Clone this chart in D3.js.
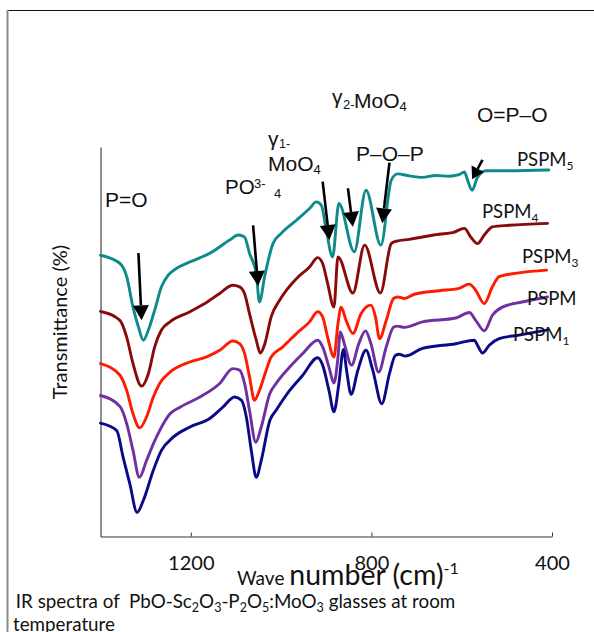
<!DOCTYPE html>
<html><head><meta charset="utf-8">
<script src="https://cdn.jsdelivr.net/npm/d3@7"></script>
<style>body{margin:0;background:#fff}svg{display:block}</style>
</head><body>
<script>
// ---------- data (wavenumber cm-1, transmittance %) ----------
const xTicks = [1200, 800, 400];
const seriesNames = ["PSPM5", "PSPM4", "PSPM3", "PSPM", "PSPM1"];
const seriesColors = ["#0f8a8a", "#880a0a", "#ff1a00", "#7030a0", "#0a0a88"];

const pspm5Wn = [1400,1357,1342,1328,1316,1305,1294,1280,1265,1250,1232,1202,1158,1114,1095,1081,1070,1055,1048,1036,1018,1000,966,937,922,911,900,886,872,838,812,779,756,742,716,687,657,628,606,594,587,577,565,546,502,407];
const pspm5T  = [72.2,70.1,66.7,58.9,53.8,50.4,53.0,58.1,64.1,67.1,68.8,70.5,72.7,76.1,77.4,76.9,72.7,67.5,60.2,67.0,75.2,77.8,81.2,84.2,85.9,85.1,78.7,71.8,85.5,73.1,88.9,74.8,91.5,93.1,92.6,92.2,92.7,92.5,92.9,93.6,91.5,88.9,92.2,93.9,93.9,94.1];

const pspm4Wn = [1400,1357,1342,1328,1309,1294,1280,1265,1246,1202,1169,1136,1107,1092,1081,1070,1055,1046,1036,1022,1003,966,937,919,908,897,883,874,841,815,780,756,745,716,687,650,620,594,580,565,550,532,495,410];
const pspm4T  = [57.8,55.5,51.2,44.4,38.6,41.8,48.7,53.0,55.1,57.7,59.8,62.4,64.5,64.1,62.4,57.2,50.4,47.1,49.5,56.4,60.7,66.2,69.2,71.6,70.1,65.0,58.9,71.8,62.5,74.8,62.5,75.2,75.8,76.3,76.9,77.6,78.0,79.1,76.9,75.2,77.4,79.5,79.9,80.4];

const pspm3Wn = [1400,1357,1342,1328,1313,1298,1283,1269,1246,1202,1165,1136,1107,1092,1081,1070,1059,1048,1033,1022,996,966,937,919,908,897,883,874,867,856,841,823,801,791,782,767,751,742,727,705,650,606,583,569,550,532,517,473,412];
const pspm3T  = [44.4,41.4,37.5,31.5,27.9,30.7,35.8,39.3,42.2,44.8,46.1,47.8,50.2,49.5,47.0,41.0,35.0,37.5,42.7,46.1,48.7,52.1,55.1,57.7,56.4,51.2,46.1,54.7,58.9,55.5,52.1,57.2,59.4,56.4,50.8,55.5,61.1,61.5,61.1,62.2,63.1,63.7,64.8,63.2,59.8,64.1,66.7,67.7,68.4];

const pspmWn  = [1400,1357,1342,1328,1314,1298,1283,1269,1246,1224,1180,1136,1107,1092,1081,1070,1056,1044,1025,1011,981,952,919,908,894,883,874,869,860,844,828,813,801,784,767,751,742,727,687,613,583,569,550,532,510,466,410];
const pspmT   = [36.2,33.4,29.0,22.1,15.2,19.5,23.8,27.2,31.5,33.2,35.8,39.3,43.1,42.7,39.3,32.4,24.2,28.1,36.7,39.3,43.5,47.0,50.4,48.7,43.5,39.4,46.1,52.5,49.5,44.0,49.5,52.8,49.5,42.2,48.7,53.7,54.0,53.7,55.1,56.1,57.5,55.5,52.8,56.8,58.9,60.2,61.5];

const pspm1Wn = [1400,1364,1350,1335,1319,1305,1283,1265,1239,1202,1158,1129,1103,1088,1077,1066,1055,1044,1025,1011,981,952,919,908,894,883,872,862,855,845,830,812,797,777,760,747,738,725,687,613,572,565,554,539,517,473,412];
const pspm1T  = [29.1,27.2,20.4,13.5,6.2,9.3,17.0,22.1,25.5,28.1,30.3,33.2,35.8,35.0,30.7,22.1,15.2,19.5,29.8,32.4,37.5,41.4,45.9,44.0,37.5,32.0,39.3,48.0,42.7,36.5,42.7,47.8,42.7,34.1,41.8,46.5,46.8,46.3,48.3,49.5,50.4,49.1,47.1,49.1,50.8,51.7,53.0];

// arrows: start (wn, T) -> tip (wn, T)
const arrowFromWn = [1316, 1062, 908, 852, 760, 554];
const arrowFromT  = [72.8, 79.9, 91.1, 89.4, 96.0, 96.7];
const arrowToWn   = [1309, 1051, 893, 841, 776, 577];
const arrowToT    = [55.5, 64.3, 76.1, 79.5, 80.4, 91.7];

// ---------- chart ----------
const W = 594, H = 632;
const svg = d3.select("body").append("svg").attr("width", W).attr("height", H);
const calib = "Lato, 'Open Sans', sans-serif";
const arial = "'Liberation Sans', Arial, sans-serif";

// frame
svg.append("line").attr("x1", 7).attr("x2", W).attr("y1", 10.5).attr("y2", 10.5)
  .attr("stroke", "#111").attr("stroke-width", 1);
svg.append("line").attr("x1", 7.5).attr("x2", 7.5).attr("y1", 10).attr("y2", H)
  .attr("stroke", "#8a8a8a").attr("stroke-width", 2);

const x = d3.scaleLinear().domain([1400, 400]).range([100.5, 552]);
const y = d3.scaleLinear().domain([0, 100]).range([536.5, 147]);

// axes
const gx = svg.append("g").attr("transform", `translate(0,${y(0)})`)
  .call(d3.axisBottom(x).tickValues(xTicks).tickSize(-4).tickSizeOuter(0).tickPadding(19).tickFormat(d3.format("d")));
gx.selectAll("path,line").attr("stroke", "#333");
gx.selectAll("text").attr("font-family", calib).attr("font-size", 20).attr("fill", "#111");

const gy = svg.append("g").attr("transform", `translate(${x(1400)},0)`)
  .call(d3.axisLeft(y).tickValues([]).tickSizeOuter(0));
gy.selectAll("path").attr("stroke", "#222");

// series
const seriesWn = [pspm5Wn, pspm4Wn, pspm3Wn, pspmWn, pspm1Wn];
const seriesT = [pspm5T, pspm4T, pspm3T, pspmT, pspm1T];
const series = seriesNames.map((n, i) => ({
  name: n, color: seriesColors[i],
  values: seriesWn[i].map((w, j) => ({ wn: w, t: seriesT[i][j] }))
}));
const line = d3.line().x(d => x(d.wn)).y(d => y(d.t)).curve(d3.curveMonotoneX);
svg.append("g").selectAll("path").data(series).join("path")
  .attr("d", d => line(d.values)).attr("fill", "none")
  .attr("stroke", d => d.color).attr("stroke-width", 2.9)
  .attr("stroke-linejoin", "round").attr("stroke-linecap", "round");

// arrows
const ag = svg.append("g");
arrowFromWn.forEach((w, i) => {
  const x1 = x(w), y1 = y(arrowFromT[i]), x2 = x(arrowToWn[i]), y2 = y(arrowToT[i]);
  const dx = x2 - x1, dy = y2 - y1, L = Math.hypot(dx, dy), ux = dx / L, uy = dy / L;
  const hl = i === 5 ? 12 : 15, hw = i === 5 ? 7 : 8;
  const bx = x2 - ux * hl, by = y2 - uy * hl;
  ag.append("line").attr("x1", x1).attr("y1", y1).attr("x2", bx).attr("y2", by)
    .attr("stroke", "#000").attr("stroke-width", 2.6);
  ag.append("path").attr("d", `M${x2},${y2}L${bx - uy * hw},${by + ux * hw}L${bx + uy * hw},${by - ux * hw}Z`)
    .attr("fill", "#000");
});

// annotation labels
function txt(s, px, py, size, fam) {
  return svg.append("text").attr("x", px).attr("y", py).attr("font-size", size)
    .attr("font-family", fam).attr("fill", "#111").text(s);
}
txt("P=O", 105, 207, 21, arial);
txt("PO", 225, 194, 20.5, arial);
txt("3-", 254, 188, 13, arial);
txt("4", 274, 198, 13, arial);
txt("γ", 268, 146, 21, arial);
txt("1-", 279, 148, 12.5, arial);
const m1 = txt("MoO", 268, 171, 21, arial);
m1.append("tspan").attr("font-size", 13).attr("dy", 3).text("4");
txt("γ", 332, 103.5, 21, arial);
txt("2-", 343, 109, 13, arial);
const m2 = txt("MoO", 354, 108, 21, arial);
m2.append("tspan").attr("font-size", 13).attr("dy", 3).text("4");
txt("P–O–P", 356, 161, 21, arial);
txt("O=P–O", 477, 122, 21, arial);

// series labels
const legX = [517, 482, 522, 527, 513];
const legY = [166, 218, 263, 305, 341];
const legSub = ["5", "4", "3", "", "1"];
seriesNames.forEach((n, i) => {
  const t = svg.append("text").attr("x", legX[i]).attr("y", legY[i])
    .attr("font-family", calib).attr("font-size", 18.5).attr("fill", "#111");
  t.append("tspan").text("PSPM");
  if (legSub[i]) t.append("tspan").attr("font-size", 12).attr("dy", 4).text(legSub[i]);
});

// axis titles
const xt = svg.append("text").attr("x", 237).attr("y", 585).attr("font-family", calib).attr("fill", "#111");
xt.append("tspan").attr("font-size", 19).text("Wave ");
xt.append("tspan").attr("font-size", 28.5).text("number (cm)");
xt.append("tspan").attr("font-size", 16).attr("dy", -11).text("-1");

svg.append("text").attr("transform", "translate(67,322) rotate(-90)")
  .attr("text-anchor", "middle").attr("font-family", calib).attr("font-size", 20)
  .attr("fill", "#111").text("Transmittance (%)");

// caption
const cap = svg.append("text").attr("x", 11).attr("y", 608).attr("font-family", calib)
  .attr("font-size", 18.8).attr("fill", "#111").style("white-space", "pre");
const parts = [[" IR spectra of  PbO-Sc", 0], ["2", 1], ["O", 0], ["3", 1], ["-P", 0], ["2", 1], ["O", 0], ["5", 1], [":MoO", 0], ["3", 1], [" glasses at room", 0]];
let down = false;
parts.forEach(([s, sub]) => {
  const ts = cap.append("tspan").text(s);
  if (sub) { ts.attr("font-size", 12.5).attr("dy", down ? 0 : 4); down = true; }
  else { ts.attr("dy", down ? -4 : 0); down = false; }
});
svg.append("text").attr("x", 13).attr("y", 631).attr("font-family", calib)
  .attr("font-size", 18.8).attr("fill", "#111").text("temperature");
</script>
</body></html>
